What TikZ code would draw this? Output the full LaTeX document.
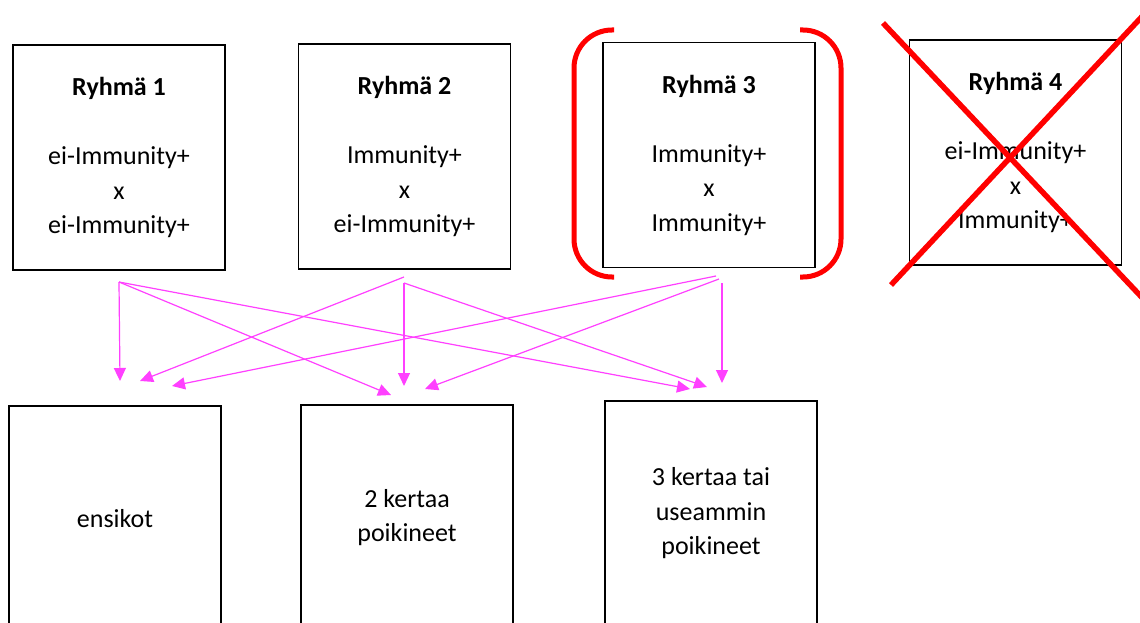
\documentclass[tikz,border=0pt]{standalone}
\usepackage{fontspec}
\setmainfont{Carlito}
\usetikzlibrary{arrows.meta}
\definecolor{arrowmag}{RGB}{255,64,255}
\definecolor{crossred}{RGB}{255,0,0}
\tikzset{
  grpbox/.style={draw=black, line width=1.4pt, minimum width=212pt, minimum height=225pt,
    inner sep=0pt, align=center, font=\fontsize{26}{34.5}\selectfont},
  conn/.style={draw=arrowmag, line width=1.2pt, -{Triangle[length=13pt,width=12pt]}, arrowmag},
  redmark/.style={draw=crossred, line width=5pt},
}
\begin{document}
\begin{tikzpicture}[x=1pt,y=-1pt]
\clip (0,0) rectangle (1140,623);
\fill[white] (0,0) rectangle (1140,623);
% top boxes
\node[grpbox] (r1) at (119,157.5) {\textbf{Ryhmä 1}\\ \mbox{}\\ ei-Immunity+\\ x\\ ei-Immunity+};
\node[grpbox] (r2) at (404.5,156.5) {\textbf{Ryhmä 2}\\ \mbox{}\\ Immunity+\\ x\\ ei-Immunity+};
\node[grpbox] (r3) at (709,155) {\textbf{Ryhmä 3}\\ \mbox{}\\ Immunity+\\ x\\ Immunity+};
\node[grpbox] (r4) at (1015.5,152.5) {\textbf{Ryhmä 4}\\ \mbox{}\\ ei-Immunity+\\ x\\ Immunity+};
% bottom boxes
\node[grpbox] (b1) at (115,518.5) {ensikot};
\node[grpbox] (b2) at (407,517.5) {2 kertaa\\ poikineet};
\node[grpbox] (b3) at (711,513.5) {3 kertaa tai\\ useammin\\ poikineet};
% arrow sources
\coordinate (s1) at (119,282);
\coordinate (s2a) at (404,277);
\coordinate (s2b) at (404,283);
\coordinate (s3a) at (716,276);
\coordinate (s3b) at (719,279);
\coordinate (s3c) at (722,283);
% arrow tips
\coordinate (t11) at (120,381);
\coordinate (t12) at (391,395);
\coordinate (t13) at (690,389);
\coordinate (t21) at (140,381);
\coordinate (t22) at (404,386);
\coordinate (t23) at (707,387);
\coordinate (t31) at (172,386);
\coordinate (t32) at (425,389);
\coordinate (t33) at (722,383);
\draw[conn] (s1) -- (t11);
\draw[conn] (s1) -- (t12);
\draw[conn] (s1) -- (t13);
\draw[conn] (s2a) -- (t21);
\draw[conn] (s2b) -- (t22);
\draw[conn] (s2b) -- (t23);
\draw[conn] (s3a) -- (t31);
\draw[conn] (s3b) -- (t32);
\draw[conn] (s3c) -- (t33);
% red brackets around Ryhmä 3
\draw[redmark, rounded corners=38pt] (614,30) -- (574,30) -- (574,277) -- (614,277);
\draw[redmark, rounded corners=38pt] (800,30) -- (841,30) -- (841,277) -- (800,277);
% red cross over Ryhmä 4
\draw[redmark, line width=5.5pt] (883,23) -- (1150,306);
\draw[redmark, line width=5.5pt] (891,285) -- (1150,8);
\end{tikzpicture}
\end{document}
